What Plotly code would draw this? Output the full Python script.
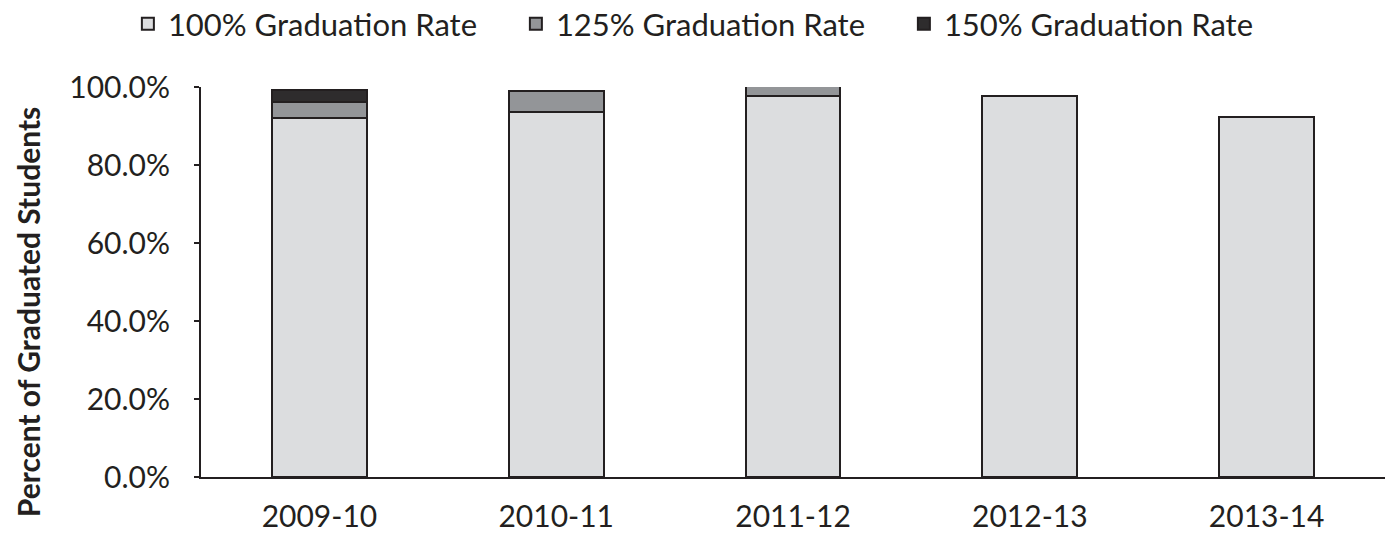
import plotly.graph_objects as go

categories = ["2009-10", "2010-11", "2011-12", "2012-13", "2013-14"]
rate_100 = [92.1, 93.7, 97.7, 97.8, 92.4]
rate_125 = [4.1, 5.3, 2.5, 0, 0]
rate_150 = [3.0, 0, 0, 0, 0]
series_names = ["100% Graduation Rate", "125% Graduation Rate", "150% Graduation Rate"]
colors = ["#dcdddf", "#939598", "#2e2c2d"]
y_ticks = [0, 20, 40, 60, 80, 100]
y_title = "Percent of Graduated Students"

fig = go.Figure()
for name, vals, col in zip(series_names, [rate_100, rate_125, rate_150], colors):
    fig.add_trace(go.Bar(
        x=categories, y=vals, name=name,
        marker=dict(color=col, line=dict(color="#231f20", width=2)),
    ))

fig.update_layout(
    barmode="stack",
    bargap=0.6,
    width=1390, height=534,
    margin=dict(l=201, r=5, t=87, b=57),
    plot_bgcolor="white", paper_bgcolor="white",
    font=dict(family="Lato, sans-serif", size=30, color="#231f20"),
    legend=dict(
        orientation="h", x=0.092, xref="container", xanchor="left",
        y=0.955, yref="container", yanchor="middle",
        font=dict(size=31), traceorder="normal",
        itemwidth=30, tracegroupgap=0,
        entrywidth=343, entrywidthmode="pixels",
    ),
    showlegend=True,
)
fig.add_annotation(
    text=f"<b>{y_title}</b>", textangle=-90,
    xref="paper", yref="paper", x=-0.146, y=0.423,
    xanchor="center", yanchor="middle", showarrow=False,
    font=dict(size=30, color="#231f20"),
)
fig.update_yaxes(
    range=[0, 100], tickvals=y_ticks,
    ticktext=[f"{v:.1f}%" for v in y_ticks],
    showgrid=False, zeroline=False, automargin=False,
    showline=True, linecolor="#231f20", linewidth=2,
    ticks="outside", ticklen=5, tickwidth=2, tickcolor="#231f20",
    tickfont=dict(size=30), ticklabelstandoff=18,
)
fig.update_xaxes(
    type="category", automargin=False,
    showgrid=False, showline=True, linecolor="#231f20", linewidth=2,
    ticks="", tickfont=dict(size=30), ticklabelstandoff=12,
)

fig.write_html("out.html", config={"displayModeBar": False},
               post_script="document.body.style.margin='0';")
